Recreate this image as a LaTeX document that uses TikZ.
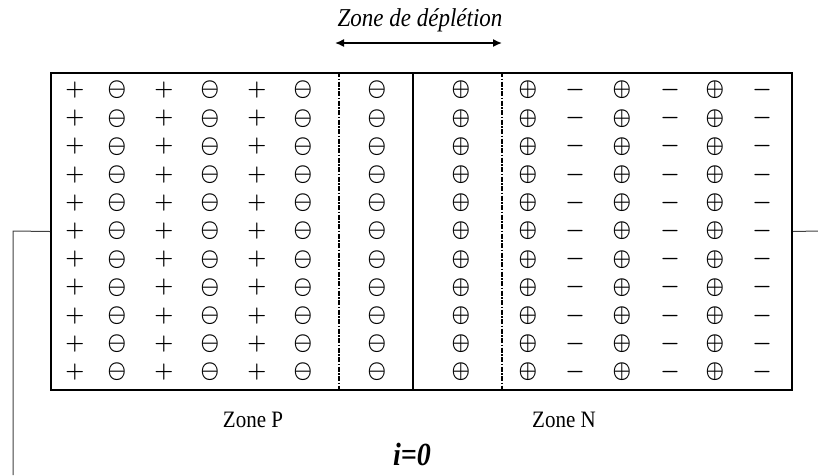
\documentclass[tikz,border=0pt]{standalone}
\usepackage[no-math]{fontspec}
\setmainfont{Liberation Serif}
\usetikzlibrary{arrows.meta}
\newcommand\chpos{\scalebox{1}[1.12]{\boldmath$\oplus$}}
\newcommand\chneg{\scalebox{1}[1.12]{\boldmath$\ominus$}}
\newcommand\holep{\scalebox{1.05}{\boldmath$+$}}
\newcommand\elecm{\scalebox{1.05}{\boldmath$-$}}
\tikzset{
  charge/.style={inner sep=0pt, font=\fontsize{20}{20}\selectfont},
  devbox/.style={draw, line width=2pt, inner sep=0pt, minimum width=741pt, minimum height=317pt, anchor=north west},
  junction/.style={line width=1.6pt},
  depl/.style={line width=1.5pt, dash pattern=on 5pt off 1.5pt on 1.5pt off 1.5pt},
  lead/.style={line width=1pt, draw=black!75},
  label/.style={inner sep=0pt, font=\fontsize{21}{21}\selectfont},
}
\begin{document}
\begin{tikzpicture}[x=1pt,y=-1pt]
\useasboundingbox (0,0) rectangle (818,475);
\node[devbox] (dev) at (50,72) {};
% junction and depletion limits
\coordinate (jt) at (413,72);  \coordinate (jb) at (413,389);
\coordinate (dlt) at (339,72); \coordinate (dlb) at (339,389);
\coordinate (drt) at (502,72); \coordinate (drb) at (502,389);
\draw[junction] (jt) -- (jb);
\draw[depl] (dlt) -- (dlb);
\draw[depl] (drt) -- (drb);
% charges
\foreach \r in {0,...,10} {
  \pgfmathsetmacro\yy{90+28.2*\r}
  \foreach \x/\g/\k in {75/\holep/a, 117/\chneg/b, 164/\holep/c, 210/\chneg/d, 257/\holep/e, 303/\chneg/f, 377/\chneg/g,
                        461/\chpos/h, 528/\chpos/i, 575/\elecm/j, 622/\chpos/k, 670/\elecm/l, 715/\chpos/m, 762/\elecm/n} {
    \node[charge] (q\k\r) at (\x,\yy) {\g};
  }
}
% leads
\coordinate (lw) at (13,231); \coordinate (lb) at (13,475);
\coordinate (re) at (818,231);
\draw[lead] (dev.west) -- (lw) -- (lb);
\draw[lead] (dev.east) -- (re);
% depletion arrow
\node[font=\itshape\fontsize{23}{23}\selectfont] (zd) at (420,20) {\scalebox{1}[1.12]{Zone de déplétion}};
\coordinate (al) at (335,43); \coordinate (ar) at (502,43);
\draw[line width=1.5pt, {Latex[length=9pt,width=8pt]}-{Latex[length=9pt,width=8pt]}] (al) -- (ar);
% labels
\node[label] (zp) at (253,420) {\scalebox{1}[1.12]{Zone P}};
\node[label] (zn) at (564,420) {\scalebox{1}[1.12]{Zone N}};
\node[inner sep=0pt, font=\bfseries\itshape\fontsize{28}{28}\selectfont] (i0) at (412,454) {\scalebox{1}[1.15]{i=0}};
\end{tikzpicture}
\end{document}
